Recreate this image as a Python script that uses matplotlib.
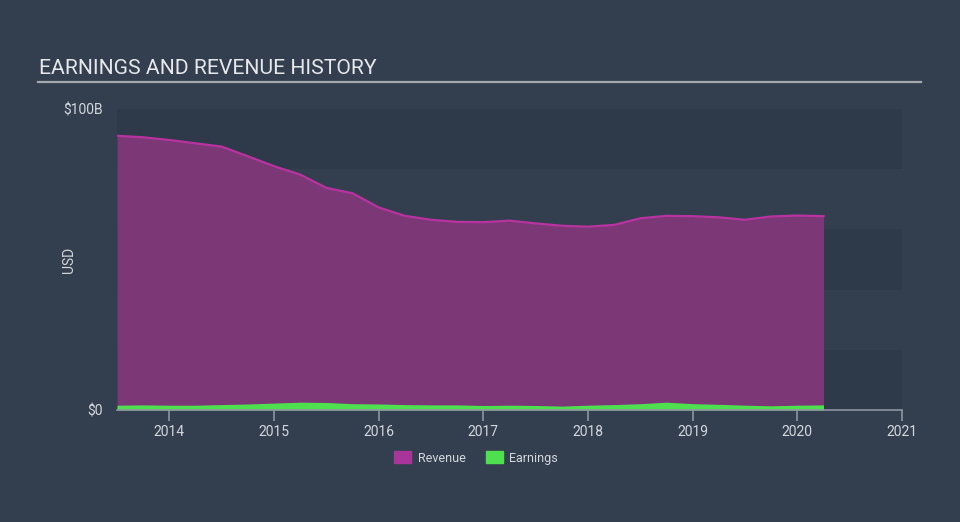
import matplotlib
matplotlib.use("Agg")
import matplotlib.pyplot as plt
from matplotlib.patches import Patch
from matplotlib.lines import Line2D

plt.rcParams['font.family'] = ['Roboto', 'DejaVu Sans']

# quarterly history, billions USD
years = [2013.50, 2013.75, 2014.00, 2014.25, 2014.50, 2014.75, 2015.00, 2015.25,
         2015.50, 2015.75, 2016.00, 2016.25, 2016.50, 2016.75, 2017.00, 2017.25,
         2017.50, 2017.75, 2018.00, 2018.25, 2018.50, 2018.75, 2019.00, 2019.25,
         2019.50, 2019.75, 2020.00, 2020.25]
revenue = [91.1, 90.6, 89.7, 88.6, 87.5, 84.3, 81.0, 78.2,
           73.8, 72.0, 67.3, 64.5, 63.2, 62.5, 62.4, 62.9,
           62.0, 61.2, 60.9, 61.5, 63.7, 64.5, 64.4, 64.0,
           63.2, 64.3, 64.6, 64.4]
earnings = [1.6, 1.7, 1.6, 1.6, 1.8, 2.0, 2.3, 2.6,
            2.5, 2.1, 2.0, 1.8, 1.7, 1.7, 1.5, 1.6,
            1.5, 1.3, 1.6, 1.8, 2.1, 2.6, 2.1, 1.9,
            1.6, 1.4, 1.6, 1.7]
xticks = [2014, 2015, 2016, 2017, 2018, 2019, 2020, 2021]

bg = '#333f4f'
band = '#2e3a49'
txt = '#d4d8dd'

fig = plt.figure(figsize=(9.6, 5.22), dpi=100, facecolor=bg)
ax = fig.add_axes([117/960, 1-410/522, (902-117)/960, (410-109)/522])
ax.set_facecolor(bg)
ax.set_xlim(2013.5, 2021)
ax.set_ylim(0, 100)

for lo in (0, 40, 80):
    ax.axhspan(lo, lo + 20, color=band, lw=0, zorder=0)

ax.fill_between(years, 0, revenue, color='#7b3776', lw=0, zorder=2)
ax.plot(years, revenue, color='#b8339f', lw=1.6, zorder=3)
ax.fill_between(years, 0, earnings, color='#4fe04f', lw=0, zorder=4)

for s in ('top', 'right', 'left'):
    ax.spines[s].set_visible(False)
ax.spines['bottom'].set_color('#8d96a1')
ax.spines['bottom'].set_linewidth(1.2)
ax.spines['bottom'].set_zorder(5)

ax.set_xticks(xticks)
ax.set_xticklabels([str(t) for t in xticks])
ax.tick_params(axis='x', colors='#8d96a1', length=8, width=1.2, labelcolor=txt,
               labelsize=10, pad=3)
ax.set_yticks([0, 100])
ax.set_yticklabels(['$0', '$100B'])
ax.tick_params(axis='y', length=0, labelcolor=txt, labelsize=10, pad=10)
ax.set_ylabel('USD', color=txt, fontsize=10)
ax.yaxis.set_label_coords(-0.052, 0.5)

fig.text(39/960, 1-68/522, 'EARNINGS AND REVENUE HISTORY', color='#e6e8eb',
         fontsize=15.2, va='center', ha='left')
fig.add_artist(Line2D([38/960, 921/960], [1-82/522, 1-82/522], color='#a4a9b0',
                      lw=1.6, transform=fig.transFigure))

handles = [Patch(color='#a8359a', label='Revenue'), Patch(color='#4fe04f', label='Earnings')]
fig.legend(handles=handles, loc='center', bbox_to_anchor=(476/960, 1-458/522), ncol=2,
           frameon=False, fontsize=9, labelcolor=txt, handlelength=1.4, handleheight=1.1,
           columnspacing=1.6, handletextpad=0.5)

fig.savefig('out.png', dpi=100, facecolor=bg)
